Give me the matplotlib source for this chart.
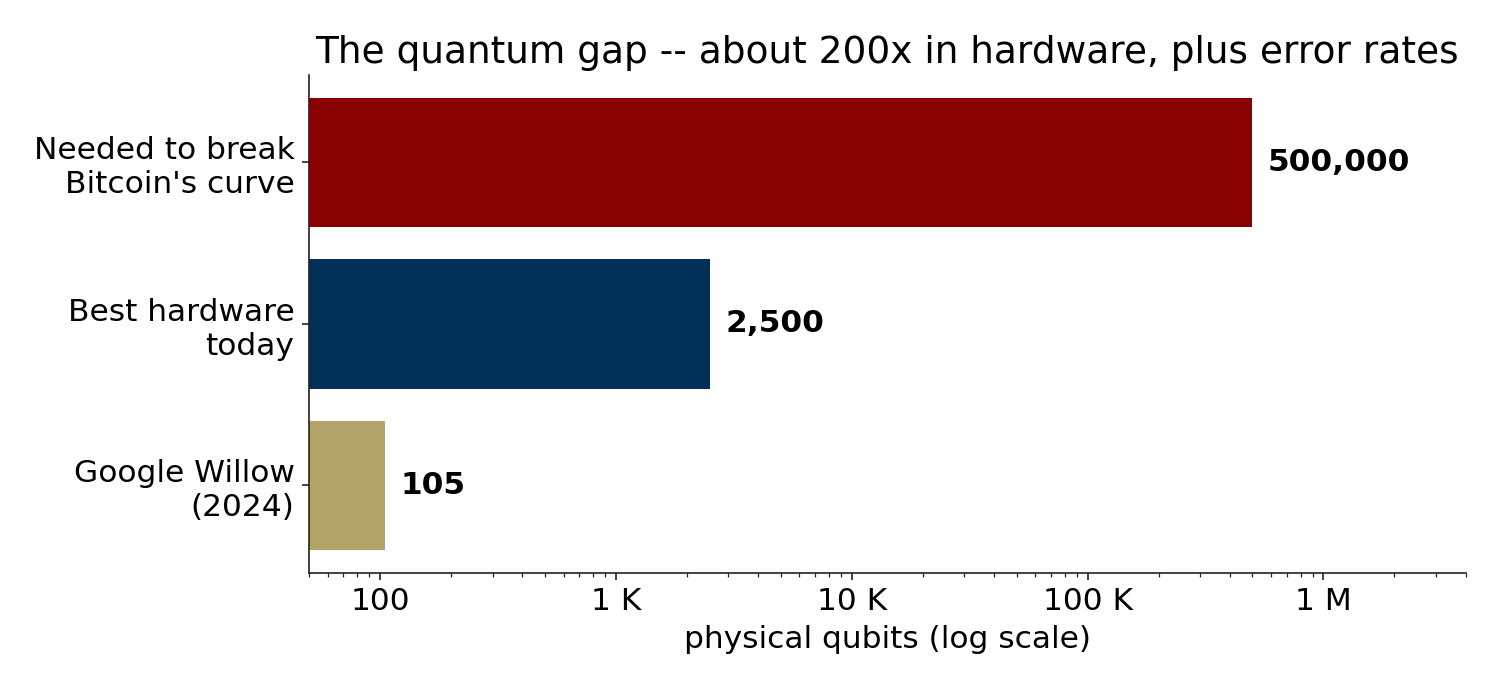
import matplotlib
matplotlib.use("Agg")
import matplotlib.pyplot as plt
from matplotlib.ticker import FuncFormatter, LogLocator

categories = ["Needed to break\nBitcoin's curve", "Best hardware\ntoday", "Google Willow\n(2024)"]
values = [500000, 2500, 105]
colors = ["#8B0000", "#003057", "#B3A369"]
title = "The quantum gap -- about 200x in hardware, plus error rates"
xlabel = "physical qubits (log scale)"


def fmt(x, pos):
    if x >= 1e6:
        return f"{x/1e6:g} M"
    if x >= 1e3:
        return f"{x/1e3:g} K"
    return f"{x:g}"


fig, ax = plt.subplots(figsize=(10, 4.6), dpi=150)
fig.subplots_adjust(left=0.206, right=0.977, top=0.891, bottom=0.170)

y = list(range(len(categories)))
ax.barh(y, values, color=colors, height=0.8)
ax.set_xscale("log")
ax.set_xlim(50, 4e6)
ax.set_yticks(y)
ax.set_yticklabels(categories, fontsize=15)
ax.invert_yaxis()

ax.xaxis.set_major_locator(LogLocator(base=10))
ax.xaxis.set_major_formatter(FuncFormatter(fmt))
ax.tick_params(axis="x", labelsize=15)

for yi, v in zip(y, values):
    ax.annotate(f"{v:,}", xy=(v, yi), xytext=(7.5, 0), textcoords="offset points",
                va="center", ha="left", fontsize=15, fontweight="bold")

ax.set_xlabel(xlabel, fontsize=15)
ax.set_title(title, fontsize=18)

for s in ["top", "right"]:
    ax.spines[s].set_visible(False)
for s in ["left", "bottom"]:
    ax.spines[s].set_color("#222222")
ax.tick_params(colors="#222222", which="both", labelcolor="black")

fig.savefig("out.png", dpi=150)
